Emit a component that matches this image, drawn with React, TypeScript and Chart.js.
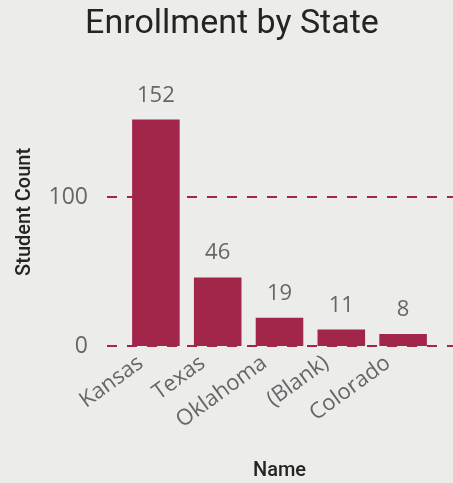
import React, { useEffect, useRef } from "react";
import { Chart, registerables } from "chart.js";

Chart.register(...registerables);

const categories = ["Kansas", "Texas", "Oklahoma", "(Blank)", "Colorado"];
const studentCounts = [152, 46, 19, 11, 8];
const yTicks = [0, 100];

const BAR = "#A2264A";
const BG = "#ECEDEB";
const LABEL_GRAY = "#666666";
const DARK = "#252423";

const extendedGrid = {
  id: "extendedGrid",
  beforeDatasetsDraw(chart: any) {
    const { ctx, chartArea, scales } = chart;
    const y = scales.y;
    ctx.save();
    ctx.strokeStyle = BAR;
    ctx.lineWidth = 2;
    ctx.setLineDash([10, 10]);
    yTicks.forEach((v) => {
      const py = Math.round(y.getPixelForValue(v));
      ctx.beginPath();
      ctx.moveTo(chartArea.left - 18, py);
      ctx.lineTo(chart.width, py);
      ctx.stroke();
    });
    ctx.restore();
  },
};

const valueLabels = {
  id: "valueLabels",
  afterDatasetsDraw(chart: any) {
    const { ctx } = chart;
    const meta = chart.getDatasetMeta(0);
    ctx.save();
    ctx.fillStyle = LABEL_GRAY;
    ctx.font = "22px 'Open Sans'";
    ctx.textAlign = "center";
    ctx.textBaseline = "alphabetic";
    meta.data.forEach((bar: any, i: number) => {
      ctx.fillText(String(studentCounts[i]), bar.x, bar.y - 18);
    });
    ctx.restore();
  },
};

export default function App() {
  const ref = useRef<HTMLCanvasElement>(null);
  useEffect(() => {
    const chart = new Chart(ref.current!, {
      type: "bar",
      data: {
        labels: categories,
        datasets: [
          {
            data: studentCounts,
            backgroundColor: BAR,
            categoryPercentage: 1,
            barPercentage: 0.77,
          },
        ],
      },
      options: {
        animation: false,
        responsive: false,
        maintainAspectRatio: false,
        layout: { padding: { left: 11, right: 0, top: 0, bottom: 0 } },
        plugins: {
          legend: { display: false },
          tooltip: { enabled: false },
          title: {
            display: true,
            text: "Enrollment by State",
            color: DARK,
            font: { family: "Roboto", size: 34, weight: "normal" },
            padding: { top: 4, bottom: 33 },
          },
        },
        scales: {
          x: {
            grid: { display: false, drawTicks: false },
            border: { display: false },
            ticks: {
              color: LABEL_GRAY,
              font: { family: "'Open Sans'", size: 22 },
              minRotation: 36,
              maxRotation: 36,
              padding: 4,
              labelOffset: -15,
            },
            title: {
              display: true,
              text: "Name",
              color: DARK,
              font: { family: "Roboto", size: 20, weight: "500" },
              padding: { top: 0, bottom: 0 },
            },
            afterFit: (s: any) => {
              s.height = 137;
            },
          },
          y: {
            min: 0,
            max: 180,
            grid: { display: false, drawTicks: false },
            border: { display: false },
            afterBuildTicks: (s: any) => {
              s.ticks = yTicks.map((v) => ({ value: v }));
            },
            ticks: {
              color: LABEL_GRAY,
              font: { family: "'Open Sans'", size: 23 },
              padding: 37,
            },
            title: {
              display: true,
              text: "Student Count",
              color: DARK,
              font: { family: "Roboto", size: 20, weight: "500" },
              padding: { top: 2, bottom: 0 },
            },
            afterFit: (s: any) => {
              s.width = 114;
            },
          },
          yRight: {
            type: "linear",
            position: "right",
            display: true,
            grid: { display: false, drawTicks: false },
            border: { display: false },
            ticks: { display: false },
            afterFit: (s: any) => {
              s.width = 19;
            },
          },
        },
      },
      plugins: [extendedGrid, valueLabels],
    });
    return () => chart.destroy();
  }, []);
  return (
    <div style={{ position: "fixed", left: 0, top: 0, width: 453, height: 483, background: BG }}>
      <canvas ref={ref} width={453} height={483} />
    </div>
  );
}
